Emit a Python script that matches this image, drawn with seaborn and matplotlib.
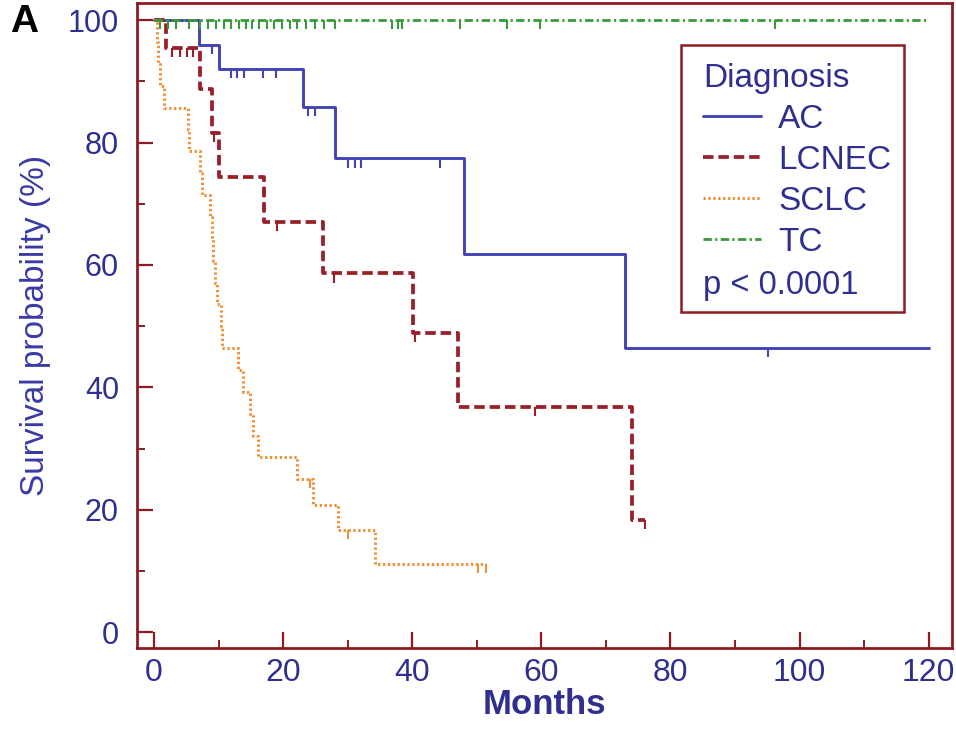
import numpy as np
import pandas as pd
import matplotlib
matplotlib.use("Agg")
import matplotlib.pyplot as plt
from matplotlib.lines import Line2D
from matplotlib.patches import Rectangle
from matplotlib.ticker import MultipleLocator
import seaborn as sns

# ---------------- data ----------------
groups = ["AC", "LCNEC", "SCLC", "TC"]

ac_times = [7.0, 10.1, 23.1, 28.0, 48.0, 73.0]
ac_surv = [96.0, 92.0, 85.8, 77.4, 61.8, 46.4]
ac_censor = [9.0, 11.9, 12.8, 13.9, 16.9, 18.9, 23.9, 24.9, 30.0, 31.1, 32.0, 44.3, 95.1]
ac_end = 120.0

lc_times = [1.9, 7.1, 9.0, 10.1, 17.1, 26.2, 40.1, 47.1, 74.0]
lc_surv = [95.5, 88.7, 81.6, 74.4, 67.0, 58.6, 48.9, 36.8, 18.3]
lc_censor = [2.8, 4.0, 5.1, 6.0, 9.3, 19.0, 27.9, 40.4, 59.0, 76.0]
lc_end = 76.0

sc_times = [0.4, 0.6, 0.9, 1.5, 5.3, 5.5, 7.1, 7.4, 8.7, 9.0, 9.2, 9.4, 9.7, 10.4,
            10.6, 13.0, 13.8, 14.9, 15.4, 16.1, 22.1, 24.6, 28.5, 34.2]
sc_surv = [96.4, 92.9, 89.3, 85.7, 82.1, 78.6, 75.0, 71.4, 67.9, 64.3, 60.7, 57.1,
           53.6, 50.0, 46.4, 42.9, 39.3, 35.7, 32.1, 28.6, 25.0, 20.8, 16.7, 11.1]
sc_censor = [24.2, 30.0, 50.2, 51.5]
sc_end = 51.5

tc_times = []
tc_surv = []
tc_censor = [1.0, 2.2, 3.4, 5.5, 7.2, 8.4, 9.6, 10.8, 12.0, 13.2, 14.2, 15.2, 16.3,
             17.5, 18.6, 19.8, 21.0, 22.2, 23.6, 25.0, 26.4, 28.0, 36.8, 37.8, 38.4,
             47.4, 54.7, 59.8, 96.2]
tc_end = 120.0

x_ticks = [0, 20, 40, 60, 80, 100, 120]
y_ticks = [0, 20, 40, 60, 80, 100]
p_text = "p < 0.0001"

# ---------------- style ----------------
sns.set_style("white")
plt.rcParams["font.family"] = ["Liberation Sans", "DejaVu Sans"]

spine_col = "#8e1b22"
navy = "#2f2f8f"
styles = {
    "AC": dict(color="#4343b5", ls="-", lw=2.1),
    "LCNEC": dict(color="#9a1f2a", ls=(0, (2.8, 1.3)), lw=2.7),
    "SCLC": dict(color="#f0923a", ls=(0, (0.75, 0.85)), lw=2.2),
    "TC": dict(color="#3a9a3a", ls=(0, (3.0, 1.2, 0.8, 1.2)), lw=2.0),
}
series = {
    "AC": (ac_times, ac_surv, ac_censor, ac_end),
    "LCNEC": (lc_times, lc_surv, lc_censor, lc_end),
    "SCLC": (sc_times, sc_surv, sc_censor, sc_end),
    "TC": (tc_times, tc_surv, tc_censor, tc_end),
}

fig = plt.figure(figsize=(9.56, 7.31), dpi=100)
ax = fig.add_axes([137 / 956, 1 - 648 / 731, (952 - 137) / 956, (648 - 3) / 731])

for g in groups:
    t, s, c, end = series[g]
    tt = [0.0] + list(t) + [end]
    ss = [100.0] + list(s) + [s[-1] if len(s) else 100.0]
    df = pd.DataFrame({"Months": tt, "Survival": ss})
    st = styles[g]
    sns.lineplot(data=df, x="Months", y="Survival", drawstyle="steps-post",
                 estimator=None, sort=False, color=st["color"], linestyle=st["ls"],
                 lw=st["lw"], ax=ax, legend=False)
    # censor marks hanging below the curve
    t_arr = np.array([0.0] + list(t))
    s_arr = np.array([100.0] + list(s))
    idx = np.searchsorted(t_arr, np.array(c), side="right") - 1
    yc = s_arr[idx]
    ax.vlines(c, yc - 1.5, yc, colors=st["color"], lw=1.5)

ax.set_xlim(-2.63, 123.6)
ax.set_ylim(-2.6, 102.8)
ax.set_xticks(x_ticks)
ax.set_yticks(y_ticks)
ax.xaxis.set_minor_locator(MultipleLocator(10))
ax.yaxis.set_minor_locator(MultipleLocator(10))
ax.tick_params(which="both", bottom=True, left=True, top=False, right=False)
ax.tick_params(which="major", direction="in", length=11.5, width=1.6, color=spine_col,
               labelcolor=navy)
ax.tick_params(axis="x", which="major", pad=7, labelsize=23)
ax.tick_params(axis="y", which="major", pad=13, labelsize=22)
ax.tick_params(which="minor", direction="in", length=6, width=1.4, color=spine_col)
for sp in ax.spines.values():
    sp.set_color(spine_col)
    sp.set_linewidth(2.0)
    sp.set_visible(True)

ax.set_xlabel("Months", fontsize=25, fontweight="bold", color=navy, labelpad=0)
ax.set_ylabel("Survival probability (%)", fontsize=24, color="#3a3aa6", labelpad=12)

fig.text(10 / 956, 1 - 22 / 731, "A", fontsize=28, fontweight="bold", color="black",
         va="center", ha="left")

# legend
handles = [Line2D([0], [0], color=styles[g]["color"], ls=styles[g]["ls"],
                  lw=styles[g]["lw"]) for g in groups]
leg = ax.legend(handles, groups, title="Diagnosis", loc="upper left",
                bbox_to_anchor=(0.6945, 0.907), frameon=False, alignment="left",
                fontsize=24, title_fontsize=24, handlelength=1.75, handletextpad=0.5,
                labelspacing=0.3, borderpad=0, borderaxespad=0)
leg.get_title().set_color(navy)
for txt in leg.get_texts():
    txt.set_color(navy)
ax.add_patch(Rectangle((0.6675, 0.5209), 0.941 - 0.6675, 0.9349 - 0.5209,
                       transform=ax.transAxes, fill=False, ec=spine_col, lw=1.8,
                       zorder=5))
ax.text(0.6945, 0.562, p_text, transform=ax.transAxes, fontsize=23.5, color=navy,
        va="center", ha="left")

fig.savefig("out.png", dpi=100, facecolor="white")
